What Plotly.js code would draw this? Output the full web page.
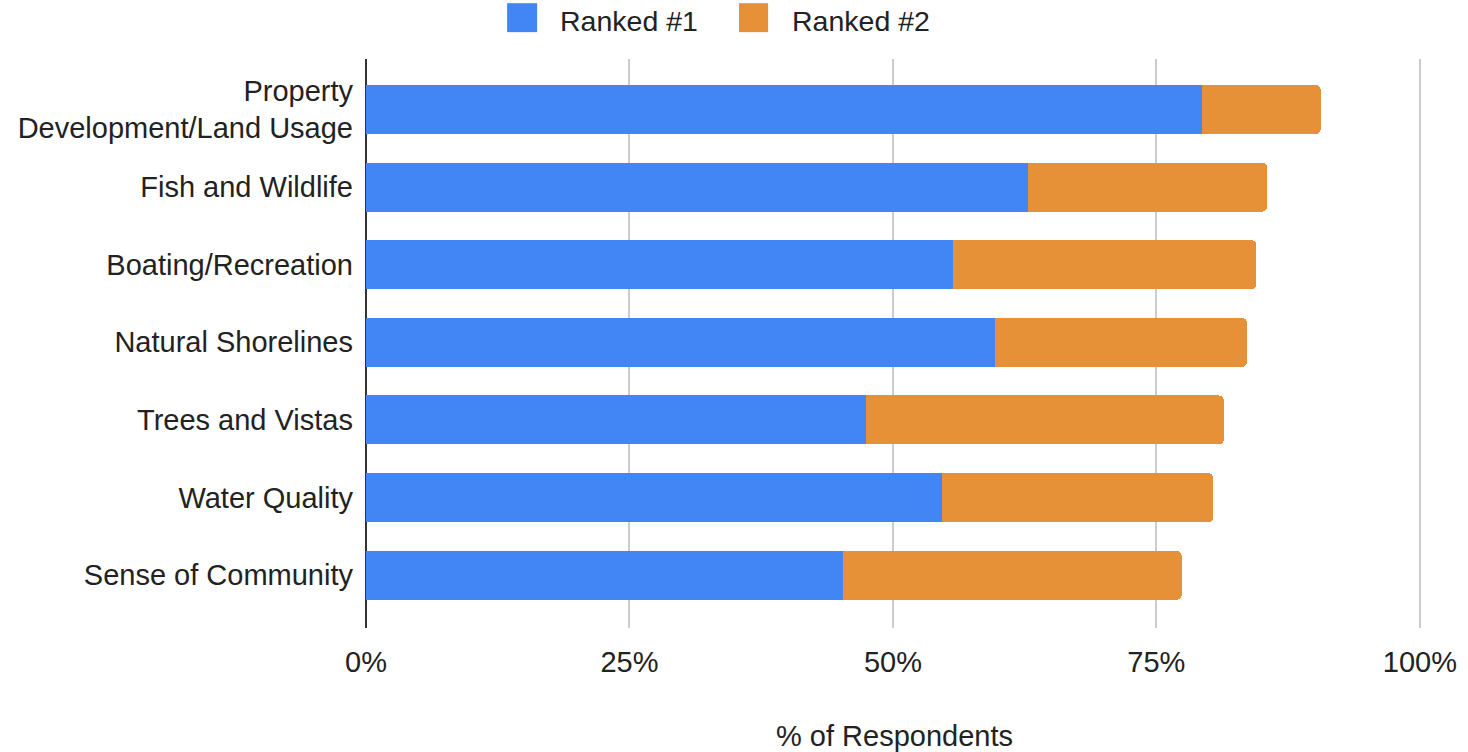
<!DOCTYPE html>
<html>
<head>
<meta charset="utf-8">
<script src="https://cdn.plot.ly/plotly-3.0.1.min.js"></script>
<style>
  html, body { margin: 0; padding: 0; background: #ffffff; }
  #chart { width: 1468px; height: 752px; }
</style>
</head>
<body>
<div id="chart"></div>
<script>
// ---- Data ----
const categories = [
  "Property<br>Development/Land Usage",
  "Fish and Wildlife",
  "Boating/Recreation",
  "Natural Shorelines",
  "Trees and Vistas",
  "Water Quality",
  "Sense of Community"
];
const ranked1 = [79.3, 62.8, 55.7, 59.7, 47.4, 54.7, 45.3];
const ranked2 = [11.3, 22.7, 28.8, 23.9, 34.0, 25.7, 32.1];
const seriesNames = ["Ranked #1", "Ranked #2"];
const seriesColors = ["#4285F4", "#E69138"];
const xTickVals = [0, 25, 50, 75, 100];
const xTickText = ["0%", "25%", "50%", "75%", "100%"];
const xAxisTitle = "% of Respondents";

const FONT = "'Liberation Sans', Arial, sans-serif";

const traces = [ranked1, ranked2].map((vals, i) => ({
  type: "bar",
  orientation: "h",
  name: seriesNames[i],
  x: vals,
  y: categories,
  marker: { color: seriesColors[i] },
  showlegend: false,
  hoverinfo: "x+name"
}));

// Custom legend (large square swatches like the reference)
const legendPos = [
  { x0: 0.1335, x1: 0.1619, tx: 0.1817 },
  { x0: 0.3529, x1: 0.3804, tx: 0.4011 }
];
const shapes = seriesNames.map((n, i) => ({
  type: "rect", xref: "paper", yref: "paper",
  x0: legendPos[i].x0, x1: legendPos[i].x1, y0: 1.0472, y1: 1.0981,
  fillcolor: seriesColors[i], line: { width: 0 }
}));
const annotations = seriesNames.map((n, i) => ({
  text: n, xref: "paper", yref: "paper",
  x: legendPos[i].tx, y: 1.0664, xanchor: "left", yanchor: "middle",
  showarrow: false, font: { family: FONT, size: 28.5, color: "#222222" }
}));

const layout = {
  width: 1468, height: 752,
  margin: { l: 366, r: 45, t: 59, b: 124 },
  paper_bgcolor: "#ffffff", plot_bgcolor: "#ffffff",
  barmode: "stack",
  bargap: 0.368,
  barcornerradius: 5,
  font: { family: FONT, size: 29, color: "#222222" },
  showlegend: false,
  xaxis: {
    range: [0, 100.3],
    tickvals: xTickVals,
    ticktext: xTickText,
    ticks: "",
    ticklabelstandoff: 14,
    showgrid: true,
    gridcolor: "#cccccc",
    gridwidth: 2,
    zeroline: true,
    zerolinecolor: "#333333",
    zerolinewidth: 2,
    showline: false,
    tickfont: { family: FONT, size: 29, color: "#222222" },
    title: { text: xAxisTitle, standoff: 48, font: { family: FONT, size: 29, color: "#222222" } },
    fixedrange: true
  },
  yaxis: {
    type: "category",
    range: [6.68, -0.65],
    ticks: "",
    ticklabelstandoff: 12,
    showgrid: false,
    zeroline: false,
    showline: false,
    tickfont: { family: FONT, size: 29, color: "#222222" },
    fixedrange: true
  },
  shapes: shapes,
  annotations: annotations
};

Plotly.newPlot("chart", traces, layout, { displayModeBar: false, staticPlot: false });
</script>
</body>
</html>
